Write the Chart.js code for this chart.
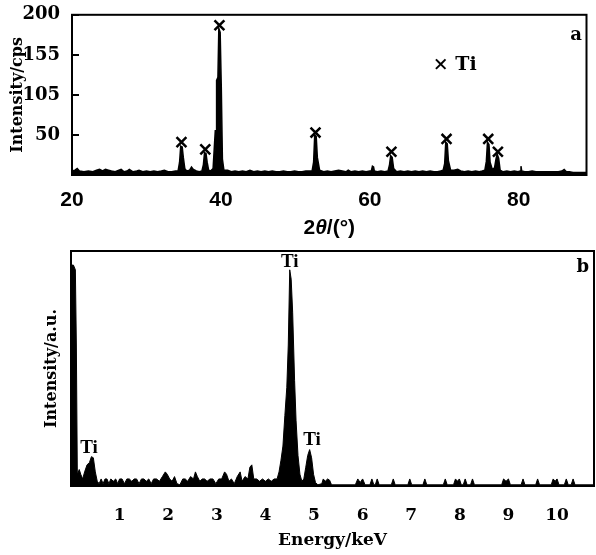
<!DOCTYPE html>
<html>
<head>
<meta charset="utf-8">
<title>XRD and EDS of Ti</title>
<script src="https://cdn.jsdelivr.net/npm/chart.js@4.4.1/dist/chart.umd.min.js"></script>
<style>
  html, body { margin: 0; padding: 0; background: #fff; }
  #wrap { position: relative; width: 596px; height: 555px; overflow: hidden; }
  #xrd { position: absolute; left: 0; top: 0; }
  #eds { position: absolute; left: 0; top: 240px; }
</style>
</head>
<body>
<div id="wrap">
  <canvas id="xrd" width="596" height="245"></canvas>
  <canvas id="eds" width="596" height="315"></canvas>
</div>
<script>
// Panel a: XRD pattern, 2theta (deg) vs counts
const xrdAngle = [
  20, 20.4, 20.7, 21, 21.6, 22.2, 22.8, 23.3, 23.7, 24.1, 24.5, 24.9, 25.3, 25.8, 26.3, 26.6, 27, 27.4, 27.7, 28.2,
  28.7, 29, 29.5, 30, 30.5, 31, 31.5, 32, 32.4, 32.9, 33.4, 33.9, 34.25, 34.45, 34.6, 34.8, 34.95, 35.15, 35.4, 35.8,
  36.05, 36.3, 36.7, 37.1, 37.45, 37.65, 37.8, 38, 38.15, 38.35, 38.6, 38.95, 39.1, 39.25, 39.35, 39.42, 39.6, 39.72, 39.9, 40.05,
  40.2, 40.4, 40.9, 41.4, 41.9, 42.4, 42.9, 43.4, 43.9, 44.4, 44.9, 45.4, 45.9, 46.4, 46.9, 47.4, 47.9, 48.4, 48.9, 49.4,
  49.9, 50.4, 50.9, 51.4, 51.9, 52.25, 52.45, 52.6, 52.8, 52.95, 53.25, 53.8, 54.3, 54.8, 55.3, 55.8, 56.3, 56.8, 57.1, 57.5,
  58, 58.5, 59, 59.5, 60, 60.2, 60.35, 60.5, 60.6, 61, 61.5, 62, 62.45, 62.65, 62.8, 63, 63.2, 63.6, 64.1, 64.6,
  65.1, 65.6, 66.1, 66.6, 67.1, 67.6, 68.1, 68.6, 69.1, 69.5, 69.85, 70.05, 70.2, 70.4, 70.55, 70.85, 71.3, 71.8, 72.2, 72.7,
  73.2, 73.7, 74.2, 74.7, 75.1, 75.45, 75.65, 75.8, 76, 76.15, 76.45, 76.75, 76.95, 77.1, 77.3, 77.5, 77.9, 78.4, 78.9, 79.4,
  79.9, 80.2, 80.3, 80.4, 80.8, 81.3, 81.8, 82.3, 82.8, 83.3, 83.8, 84.3, 84.8, 85.3, 85.8, 86.1, 86.4, 86.8, 87.3, 87.8,
  88.3, 89.1
];
const xrdCounts = [
  5, 6, 8, 5, 4, 5, 4, 6, 7, 5, 7, 6, 5, 4, 6, 7, 4, 5, 7, 4,
  5, 6, 4, 5, 4, 5, 4, 5, 6, 4, 4, 5, 5, 16, 36, 35, 22, 8, 5, 6,
  10, 7, 5, 4, 5, 13, 28, 27, 16, 6, 5, 8, 32, 56, 26, 118, 122, 183, 178, 110,
  20, 6, 6, 4, 5, 4, 5, 4, 6, 4, 5, 4, 5, 4, 5, 4, 4, 5, 4, 4,
  5, 4, 4, 5, 5, 5, 16, 50, 48, 22, 6, 4, 5, 4, 5, 6, 5, 4, 6, 4,
  5, 4, 5, 4, 5, 5, 11, 10, 5, 4, 5, 4, 5, 13, 24, 22, 8, 4, 5, 4,
  5, 4, 5, 4, 5, 4, 5, 4, 4, 5, 6, 14, 41, 39, 18, 6, 6, 7, 5, 4,
  5, 4, 5, 4, 5, 6, 17, 41, 38, 16, 7, 9, 20, 26, 21, 6, 4, 5, 4, 5,
  4, 5, 11, 5, 4, 4, 5, 4, 4, 4, 4, 4, 4, 4, 5, 7, 4, 4, 3, 3,
  3, 3
];
// Ti reflections marked with a cross
const xrdPeakAngle = [34.7, 37.9, 39.8, 52.7, 62.9, 70.3, 75.9, 77.2];
const xrdPeakMark = [41, 32, 187, 53, 29, 45, 45, 29];
const xrdAngleTicks = [20, 40, 60, 80];
const xrdCountTicks = [50, 100, 150, 200];
const xrdCountLabels = ['50', '105', '155', '200'];

// Panel b: EDS spectrum, energy (keV) vs intensity (a.u.)
const edsEnergy = [
  0, 0.02, 0.05, 0.09, 0.11, 0.13, 0.17, 0.2, 0.24, 0.28, 0.33, 0.38, 0.42, 0.46, 0.5, 0.54, 0.58, 0.62, 0.66, 0.7,
  0.74, 0.78, 0.82, 0.87, 0.92, 0.96, 1, 1.05, 1.1, 1.15, 1.2, 1.25, 1.3, 1.35, 1.4, 1.45, 1.5, 1.55, 1.6, 1.65,
  1.7, 1.76, 1.82, 1.88, 1.94, 1.98, 2.03, 2.08, 2.13, 2.18, 2.24, 2.3, 2.35, 2.4, 2.46, 2.52, 2.56, 2.6, 2.65, 2.7,
  2.75, 2.8, 2.86, 2.92, 2.98, 3.04, 3.1, 3.16, 3.2, 3.25, 3.3, 3.36, 3.42, 3.48, 3.52, 3.58, 3.64, 3.68, 3.72, 3.76,
  3.82, 3.88, 3.94, 4, 4.06, 4.12, 4.18, 4.24, 4.28, 4.32, 4.36, 4.4, 4.44, 4.47, 4.5, 4.53, 4.56, 4.6, 4.63, 4.67,
  4.71, 4.75, 4.79, 4.83, 4.87, 4.91, 4.95, 4.99, 5.03, 5.08, 5.16, 5.19, 5.23, 5.28, 5.32, 5.36, 5.85, 5.9, 5.95, 6,
  6.05, 6.15, 6.19, 6.23, 6.26, 6.3, 6.34, 6.59, 6.63, 6.67, 6.93, 6.97, 7.01, 7.24, 7.28, 7.32, 7.66, 7.7, 7.74, 7.87,
  7.91, 7.95, 7.99, 8.03, 8.07, 8.11, 8.15, 8.22, 8.26, 8.3, 8.86, 8.9, 8.95, 9, 9.04, 9.26, 9.3, 9.34, 9.56, 9.6,
  9.64, 9.88, 9.92, 9.96, 10, 10.04, 10.15, 10.19, 10.23, 10.29, 10.33, 10.37, 10.76
];
const edsCounts = [
  88, 94, 94, 92, 60, 5, 7, 5, 3, 6, 9, 10, 12.5, 12, 6, 2, 1, 3, 1, 3,
  3, 1, 3, 2, 3, 1, 3, 3, 1, 3, 3, 2, 3, 3, 1, 3, 3, 2, 3, 1,
  3, 3, 2, 4, 6, 5, 3, 2, 4, 1, 0.5, 3, 3, 2, 4, 3, 6, 4, 2, 3,
  3, 2, 3, 3, 1, 3, 3, 6, 5, 2, 3, 1, 4, 6, 2, 4, 3, 8, 9, 3,
  3, 2, 3, 2, 3, 2, 3, 3, 6, 11, 17, 30, 42, 60, 92, 88, 74, 45, 28, 13,
  5, 2, 3, 8, 13, 15.5, 12, 5, 1.5, 0.5, 1, 3, 2, 3, 2.5, 0.5, 0.5, 3, 1.5, 3,
  0.5, 0.5, 3, 0.5, 0.5, 3, 0.5, 0.5, 3, 0.5, 0.5, 3, 0.5, 0.5, 3, 0.5, 0.5, 3, 0.5, 0.5,
  3, 2, 3, 0.5, 0.5, 3, 0.5, 0.5, 3, 0.5, 0.5, 3, 2, 3, 0.5, 0.5, 3, 0.5, 0.5, 3,
  0.5, 0.5, 3, 2, 3, 0.5, 0.5, 3, 0.5, 0.5, 3, 0.5, 0.5
];
const edsEnergyTicks = [1, 2, 3, 4, 5, 6, 7, 8, 9, 10];

const SERIF = '"DejaVu Serif", "Liberation Serif", serif';
const SANS = '"Liberation Sans", Arial, sans-serif';

Chart.defaults.color = '#000';
Chart.defaults.font.family = SERIF;
Chart.defaults.font.weight = 'bold';

function toPoints(xs, ys) {
  return xs.map((x, i) => ({ x, y: ys[i] }));
}

// box round the plot area
const framePlugin = {
  id: 'frame',
  afterDraw(chart) {
    const { ctx, chartArea: a } = chart;
    ctx.save();
    ctx.strokeStyle = '#000';
    ctx.lineWidth = 2;
    ctx.strokeRect(a.left, a.top, a.right - a.left, a.bottom - a.top);
    ctx.restore();
  }
};

// short tick marks pointing into the plot on the left axis
const innerTicksPlugin = {
  id: 'innerTicks',
  afterDraw(chart) {
    const { ctx, chartArea: a, scales } = chart;
    ctx.save();
    ctx.strokeStyle = '#000';
    ctx.lineWidth = 2;
    scales.y.ticks.forEach(t => {
      const py = Math.round(scales.y.getPixelForValue(t.value));
      ctx.beginPath();
      ctx.moveTo(a.left, py);
      ctx.lineTo(a.left + 7, py);
      ctx.stroke();
    });
    ctx.restore();
  }
};

// text placed at data coordinates
function labelsPlugin(id, items) {
  return {
    id,
    afterDraw(chart) {
      const { ctx, scales: { x, y } } = chart;
      ctx.save();
      ctx.fillStyle = '#000';
      ctx.textAlign = 'center';
      ctx.textBaseline = 'middle';
      items.forEach(it => {
        ctx.font = it.font;
        ctx.fillText(it.text, x.getPixelForValue(it.x), y.getPixelForValue(it.y));
      });
      ctx.restore();
    }
  };
}

// "2θ/(°)" with an italic theta under panel a
const xrdTitlePlugin = {
  id: 'xrdTitle',
  afterDraw(chart) {
    const { ctx, chartArea: a } = chart;
    const parts = [
      ['2', 'bold 21px ' + SANS],
      ['θ', 'italic bold 21px ' + SANS],
      ['/(°)', 'bold 21px ' + SANS]
    ];
    ctx.save();
    ctx.fillStyle = '#000';
    ctx.textBaseline = 'middle';
    ctx.textAlign = 'left';
    let total = 0;
    parts.forEach(([t, f]) => { ctx.font = f; total += ctx.measureText(t).width; });
    let px = (a.left + a.right) / 2 - total / 2;
    const py = a.bottom + 53;
    parts.forEach(([t, f]) => {
      ctx.font = f;
      ctx.fillText(t, px, py);
      px += ctx.measureText(t).width;
    });
    ctx.restore();
  }
};

new Chart(document.getElementById('xrd'), {
  type: 'line',
  data: {
    datasets: [
      {
        data: toPoints(xrdAngle, xrdCounts),
        borderColor: '#000',
        backgroundColor: '#000',
        borderWidth: 1.5,
        fill: 'origin',
        pointRadius: 0,
        tension: 0
      },
      {
        type: 'scatter',
        data: toPoints(xrdPeakAngle, xrdPeakMark),
        showLine: false,
        pointStyle: 'crossRot',
        pointRadius: 7,
        pointBorderWidth: 2.5,
        borderColor: '#000',
        backgroundColor: '#000'
      }
    ]
  },
  options: {
    responsive: false,
    animation: false,
    events: [],
    layout: { padding: { left: 0, top: 12, right: 2, bottom: 0 } },
    plugins: { legend: { display: false }, tooltip: { enabled: false } },
    scales: {
      x: {
        type: 'linear',
        min: 20,
        max: 89.1,
        grid: { display: false },
        border: { display: false },
        afterBuildTicks: s => { s.ticks = xrdAngleTicks.map(v => ({ value: v })); },
        afterFit: s => { s.height = 70; },
        ticks: {
          padding: 5,
          maxRotation: 0,
          font: { family: SANS, size: 21, weight: 'bold' },
          callback: v => String(v)
        }
      },
      y: {
        type: 'linear',
        min: 0,
        max: 200,
        grid: { display: false },
        border: { display: false },
        afterBuildTicks: s => { s.ticks = xrdCountTicks.map(v => ({ value: v })); },
        afterFit: s => { s.width = 72; },
        ticks: {
          padding: 4,
          font: { size: 18, weight: 'bold' },
          callback: (v, i) => xrdCountLabels[i]
        },
        title: {
          display: true,
          text: 'Intensity/cps',
          font: { size: 16, weight: 'bold' },
          padding: { top: 8, bottom: 0 }
        }
      }
    }
  },
  plugins: [
    framePlugin,
    innerTicksPlugin,
    xrdTitlePlugin,
    labelsPlugin('xrdLabels', [
      { text: 'a', x: 87.7, y: 174, font: 'bold 18px ' + SERIF },
      { text: '× Ti', x: 71.4, y: 137, font: 'bold 19px ' + SERIF }
    ])
  ]
});

new Chart(document.getElementById('eds'), {
  type: 'line',
  data: {
    datasets: [
      {
        data: toPoints(edsEnergy, edsCounts),
        borderColor: '#000',
        backgroundColor: '#000',
        borderWidth: 1,
        fill: 'origin',
        pointRadius: 0,
        tension: 0
      }
    ]
  },
  options: {
    responsive: false,
    animation: false,
    events: [],
    layout: { padding: { left: 0, top: 11, right: 2, bottom: 0 } },
    plugins: { legend: { display: false }, tooltip: { enabled: false } },
    scales: {
      x: {
        type: 'linear',
        min: 0,
        max: 10.76,
        grid: { display: false },
        border: { display: false },
        afterBuildTicks: s => { s.ticks = edsEnergyTicks.map(v => ({ value: v })); },
        afterFit: s => { s.height = 69; },
        ticks: {
          padding: 11,
          maxRotation: 0,
          font: { size: 17, weight: 'bold' },
          callback: v => String(v)
        },
        title: {
          display: true,
          text: 'Energy/keV',
          font: { size: 17, weight: 'bold' },
          padding: { top: 0, bottom: 4 }
        }
      },
      y: {
        type: 'linear',
        min: 0,
        max: 100,
        grid: { display: false },
        border: { display: false },
        ticks: { display: false },
        afterFit: s => { s.width = 71; },
        title: {
          display: true,
          text: 'Intensity/a.u.',
          font: { size: 16, weight: 'bold' },
          padding: { top: 42, bottom: 0 }
        }
      }
    }
  },
  plugins: [
    framePlugin,
    labelsPlugin('edsLabels', [
      { text: 'b', x: 10.53, y: 93.2, font: 'bold 18px ' + SERIF },
      { text: 'Ti', x: 4.5, y: 95.3, font: 'bold 19px "Liberation Serif", serif' },
      { text: 'Ti', x: 0.37, y: 16.2, font: 'bold 19px "Liberation Serif", serif' },
      { text: 'Ti', x: 4.96, y: 19.6, font: 'bold 19px "Liberation Serif", serif' }
    ])
  ]
});
</script>
</body>
</html>
